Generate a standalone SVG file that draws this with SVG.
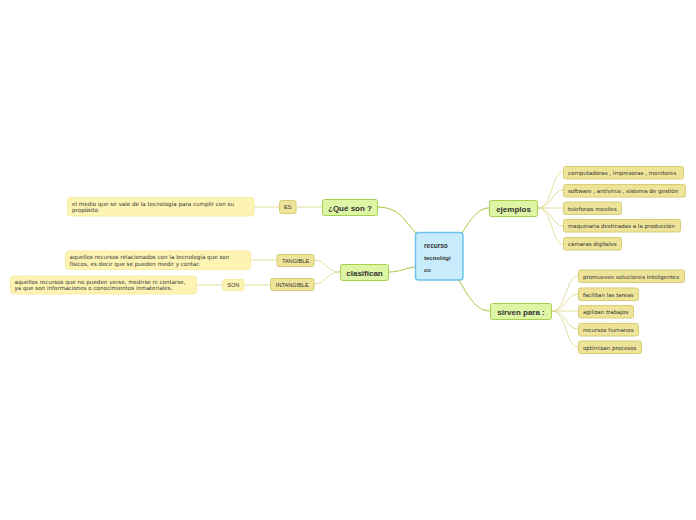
<svg xmlns="http://www.w3.org/2000/svg" width="696" height="520" viewBox="0 0 696 520">
<style>
text{font-family:"Liberation Sans",Arial,sans-serif;fill:#333}
.c{fill:#c8ecfb;stroke:#6cc3ec;stroke-width:1.5}
.m{fill:#def5a6;stroke:#a6d14e;stroke-width:1}
.l{fill:#ede49a;stroke:#d6cd74;stroke-width:1}
.d{fill:#fdf4b3;stroke:#f7eca4;stroke-width:1}
.mt{font-size:8px;font-weight:bold;text-anchor:middle}
.lt{font-size:5.6px}
.wt{font-family:"DejaVu Sans",Verdana,sans-serif;font-size:5.5px}
.dt{font-family:"DejaVu Sans",Verdana,sans-serif;font-size:5.6px}
.ct{font-size:6.5px;font-weight:bold}
.g{fill:none;stroke:#a6c83c;stroke-width:1}
.y{fill:none;stroke:#e2de9e;stroke-width:1}
</style>
<rect width="696" height="520" fill="#fff"/>
<g id="connectors">
<path class="g" d="M377,207 C400,207 405,222 416,233"/>
<path class="g" d="M389,272 C400,272 405,268 416,267"/>
<path class="g" d="M462,233 C470,220 478,208 489,208"/>
<path class="g" d="M459,280 C468,296 476,311 490,311"/>
<path class="y" d="M538,208 C552,208 552,172 563,172"/>
<path class="y" d="M538,208 C552,208 552,190 563,190"/>
<path class="y" d="M538,208 L563,208"/>
<path class="y" d="M538,208 C552,208 552,226 563,226"/>
<path class="y" d="M538,208 C552,208 552,244 563,244"/>
<path class="y" d="M552,311 C566,311 566,276 578,276"/>
<path class="y" d="M552,311 C566,311 566,294 578,294"/>
<path class="y" d="M552,311 L578,311"/>
<path class="y" d="M552,311 C566,311 566,329 578,329"/>
<path class="y" d="M552,311 C566,311 566,347 578,347"/>
<path class="y" d="M322,207 L296,207"/>
<path class="y" d="M279,207 L254,207"/>
<path class="y" d="M340,272 C326,272 326,260 314,260"/>
<path class="y" d="M340,272 C326,272 326,284 314,284"/>
<path class="y" d="M277,260 L251,260"/>
<path class="y" d="M270,285 L244,285"/>
<path class="y" d="M222,285 L197,285"/>
</g>
<g id="center"><rect class="c" x="415.5" y="232.5" width="47.5" height="47.5" rx="3"/>
<text class="ct" x="424" y="248">recurso</text>
<text class="ct" x="424" y="260" style="font-size:6px">tecnológi</text>
<text class="ct" x="424" y="272" style="font-size:6px">co</text></g>
<g id="que"><rect class="m" x="322.5" y="199.5" width="55" height="16" rx="2"/><text class="mt" x="350" y="210.5">¿Qué son ?</text></g>
<g id="clasifican"><rect class="m" x="340.5" y="264.5" width="48" height="16" rx="2"/><text class="mt" x="364.5" y="275.5">clasifican</text></g>
<g id="ejemplos"><rect class="m" x="489.5" y="200.5" width="48" height="16" rx="2"/><text class="mt" x="513.5" y="211.5">ejemplos</text></g>
<g id="sirven"><rect class="m" x="490.5" y="303.5" width="61" height="16" rx="2"/><text class="mt" x="521" y="314.5">sirven para :</text></g>
<g id="e1"><rect class="l" x="563.5" y="166.5" width="120" height="12.5" rx="2"/><text class="wt" x="568" y="175">computadoras , impresoras , monitores</text></g>
<g id="e2"><rect class="l" x="563.5" y="184.5" width="122" height="12.5" rx="2"/><text class="wt" x="568" y="193">software , antivirus , sistema de gestión</text></g>
<g id="e3"><rect class="l" x="563.5" y="202" width="58" height="12.5" rx="2"/><text class="wt" x="568" y="210.5">telefonos moviles</text></g>
<g id="e4"><rect class="l" x="563.5" y="219.5" width="117" height="12.5" rx="2"/><text class="wt" x="568" y="228">maquinaria destinadas a la producción</text></g>
<g id="e5"><rect class="l" x="563.5" y="237.5" width="58" height="12.5" rx="2"/><text class="wt" x="568" y="246">cámaras digitales</text></g>
<g id="s1"><rect class="l" x="578.5" y="270" width="106" height="12.5" rx="2"/><text class="wt" x="583" y="278.5">promueven soluciones inteligentes</text></g>
<g id="s2"><rect class="l" x="578.5" y="288" width="60" height="12.5" rx="2"/><text class="wt" x="583" y="296.5">facilitan las tareas</text></g>
<g id="s3"><rect class="l" x="578.5" y="305.5" width="55" height="12.5" rx="2"/><text class="wt" x="583" y="314">agilizan trabajos</text></g>
<g id="s4"><rect class="l" x="578.5" y="323.5" width="60" height="12.5" rx="2"/><text class="wt" x="583" y="332">recursos humanos</text></g>
<g id="s5"><rect class="l" x="578.5" y="341" width="63" height="12.5" rx="2"/><text class="wt" x="583" y="349.5">optimizan procesos</text></g>
<g id="es"><rect class="l" x="279.5" y="200.5" width="16.5" height="13" rx="2"/><text class="lt" x="287.75" y="209" text-anchor="middle">ES</text></g>
<g id="esdesc"><rect class="d" x="67.5" y="197.5" width="186.5" height="18.5" rx="3"/>
<text class="dt" x="72" y="205.5">el medio que se vale de la tecnología para cumplir con su</text>
<text class="dt" x="72" y="211.5">propósito</text></g>
<g id="tangible"><rect class="l" x="277" y="254.5" width="37" height="12" rx="2"/><text class="lt" x="295.5" y="262.5" text-anchor="middle">TANGIBLE</text></g>
<g id="tdesc"><rect class="d" x="65.5" y="251" width="185" height="18.5" rx="3"/>
<text class="dt" x="69.5" y="258.5">aquellos recursos relacionados con la tecnología que son</text>
<text class="dt" x="69.5" y="265.5">físicos, es decir que se pueden medir y contar.</text></g>
<g id="intangible"><rect class="l" x="270.5" y="278.5" width="43.5" height="12" rx="2"/><text class="lt" x="292.25" y="286.5" text-anchor="middle">INTANGIBLE</text></g>
<g id="son"><rect class="d" x="222.5" y="279.5" width="21.5" height="11" rx="2"/><text class="lt" x="233.25" y="287" text-anchor="middle">SON</text></g>
<g id="idesc"><rect class="d" x="10.5" y="276" width="186" height="18" rx="3"/>
<text class="dt" x="14.5" y="283.5">aquellos recursos que no pueden verse, medirse ni contarse,</text>
<text class="dt" x="14.5" y="290">ya que son informaciones o conocimientos inmateriales.</text></g>
</svg>
